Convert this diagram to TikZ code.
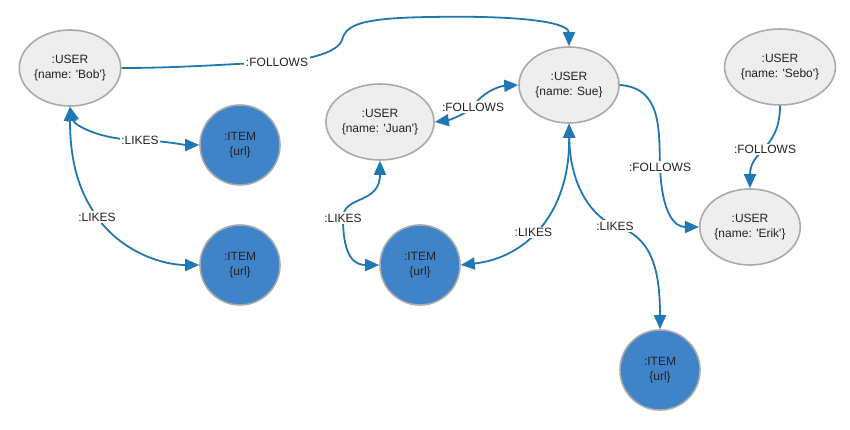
\documentclass[tikz,border=0pt]{standalone}
\usepackage{fontspec}
\setmainfont{Liberation Sans}[Ligatures=TeXOff]
\usetikzlibrary{arrows.meta,shapes.geometric}
\definecolor{edgeblue}{HTML}{1F78B4}
\definecolor{itemblue}{HTML}{3F83C8}
\definecolor{usergray}{HTML}{EEEEEE}
\definecolor{bordergray}{HTML}{AAAAAA}
\definecolor{txt}{HTML}{222222}
\begin{document}
\begin{tikzpicture}[x=1pt,y=-1pt,
  font=\fontsize{12}{15}\selectfont,
  user/.style={ellipse,draw=bordergray,line width=1.6pt,fill=usergray,minimum width=100pt,minimum height=76pt,inner sep=0pt,align=center,text=txt},
  item/.style={circle,draw=bordergray,line width=1.6pt,fill=itemblue,minimum size=80pt,inner sep=0pt,align=center,text=txt},
  rel/.style={draw=edgeblue,line width=1.8pt,-{Triangle[length=14pt,width=12pt]}},
  relb/.style={draw=edgeblue,line width=1.8pt,{Triangle[length=14pt,width=12pt]}-{Triangle[length=14pt,width=12pt]}},
  lbl/.style={fill=white,inner sep=1.5pt,text=txt}]
\useasboundingbox (0,0) rectangle (850,430);
% nodes
\node[user] (bob) at (70,68) {:USER\\\{name: 'Bob'\}};
\node[item] (i1) at (240,145) {:ITEM\\\{url\}};
\node[item] (i2) at (240,265) {:ITEM\\\{url\}};
\node[user] (juan) at (380,122) {:USER\\\{name: 'Juan'\}};
\node[user] (sue) at (569,85) {:USER\\\{name: Sue\}};
\node[item] (i3) at (420,265) {:ITEM\\\{url\}};
\node[user] (sebo) at (780,67) {:USER\\\{name: 'Sebo'\}};
\node[user] (erik) at (750,227) {:USER\\\{name: 'Erik'\}};
\node[item] (i4) at (660,370) {:ITEM\\\{url\}};
% helper coordinates
\coordinate (f1) at (277,62);
\coordinate (f2) at (342,40);
\coordinate (f3) at (430,17);
\coordinate (l1) at (140,140);
\coordinate (l2) at (97,217);
\coordinate (l4) at (473,107);
\coordinate (l5) at (343,218);
\coordinate (l7) at (615,226);
\coordinate (l8) at (660,167);
% Bob -> Sue
\draw[rel] (bob.east) .. controls (180,68) and (230,64) .. (f1)
  .. controls (310,60) and (338,52) .. (f2)
  .. controls (346,25) and (360,18) .. (f3)
  .. controls (540,15) and (569,25) .. (sue.north);
\node[lbl] at (f1) {:FOLLOWS};
% Bob <-> items
\draw[relb] (bob.south) .. controls (74,125) and (100,140) .. (l1)
  .. controls (165,141) and (185,145) .. (i1.west);
\node[lbl] at (l1) {:LIKES};
\draw[relb] (bob.south) .. controls (70,160) and (78,190) .. (l2)
  .. controls (120,250) and (160,265) .. (i2.west);
\node[lbl] at (l2) {:LIKES};
% Juan <-> Sue
\draw[relb] (juan.east) .. controls (450,120) and (465,114) .. (l4)
  .. controls (482,92) and (500,86) .. (sue.west);
\node[lbl] at (l4) {:FOLLOWS};
% Juan <-> item3
\draw[relb] (juan.south) .. controls (380,205) and (343,195) .. (l5)
  .. controls (343,258) and (355,265) .. (i3.west);
\node[lbl] at (l5) {:LIKES};
% Sue <-> item3
\draw[relb] (sue.south) .. controls (570,215) and (525,258) .. node[lbl,pos=0.55] {:LIKES} (i3.east);
% Sue <-> item4
\draw[relb] (sue.south) .. controls (570,190) and (595,218) .. (l7)
  .. controls (652,236) and (660,270) .. (i4.north);
\node[lbl] at (l7) {:LIKES};
% Sue -> Erik
\draw[rel] (sue.east) .. controls (662,88) and (659,130) .. (l8)
  .. controls (662,215) and (675,227) .. (erik.west);
\node[lbl] at (l8) {:FOLLOWS};
% Sebo -> Erik
\draw[rel] (sebo.south) .. controls (780,150) and (750,150) .. node[lbl,pos=0.5] {:FOLLOWS} (erik.north);
\end{tikzpicture}
\end{document}
